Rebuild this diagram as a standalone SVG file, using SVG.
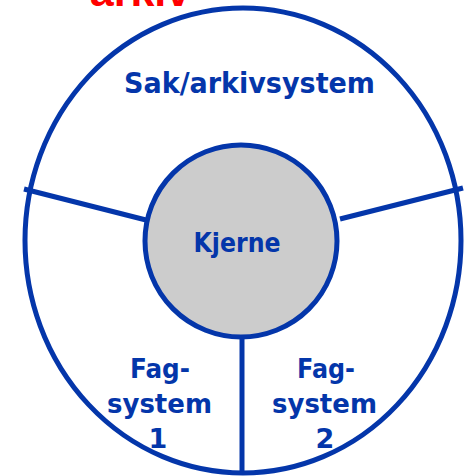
<svg xmlns="http://www.w3.org/2000/svg" width="466" height="476" viewBox="0 0 466 476">
<style>
.blue{fill:none;stroke:#0436aa;stroke-width:5}
.lbl{font-family:"DejaVu Sans",Verdana,sans-serif;font-weight:bold;fill:#0436aa;text-anchor:middle}
</style>
<rect width="466" height="476" fill="#ffffff"/>
<text x="140" y="6" font-family="'Liberation Sans',Arial,sans-serif" font-weight="bold" font-size="43" fill="#ff0000" text-anchor="middle">arkiv</text>
<g id="outer">
<ellipse cx="243" cy="240.5" rx="218" ry="232.5" class="blue"/>
</g>
<g id="connectors">
<line x1="24" y1="189" x2="146" y2="220" class="blue"/>
<line x1="340" y1="219" x2="463" y2="188" class="blue"/>
<line x1="242" y1="336" x2="242" y2="474" class="blue"/>
</g>
<g id="sak">
<text x="249.5" y="93" class="lbl" font-size="28" textLength="251" lengthAdjust="spacingAndGlyphs">Sak/arkivsystem</text>
</g>
<g id="kjerne">
<circle cx="241" cy="241" r="96" fill="#cccccc" stroke="#0436aa" stroke-width="5"/>
<text x="237" y="252" class="lbl" font-size="27" textLength="87" lengthAdjust="spacingAndGlyphs">Kjerne</text>
</g>
<g id="fag1">
<text class="lbl" font-size="27"><tspan x="160" y="378" textLength="60" lengthAdjust="spacingAndGlyphs">Fag-</tspan><tspan x="159.5" y="413" textLength="105" lengthAdjust="spacingAndGlyphs">system</tspan><tspan x="158" y="448">1</tspan></text>
</g>
<g id="fag2">
<text class="lbl" font-size="27"><tspan x="326" y="378" textLength="58" lengthAdjust="spacingAndGlyphs">Fag-</tspan><tspan x="324.5" y="413" textLength="105" lengthAdjust="spacingAndGlyphs">system</tspan><tspan x="325" y="448">2</tspan></text>
</g>
</svg>
